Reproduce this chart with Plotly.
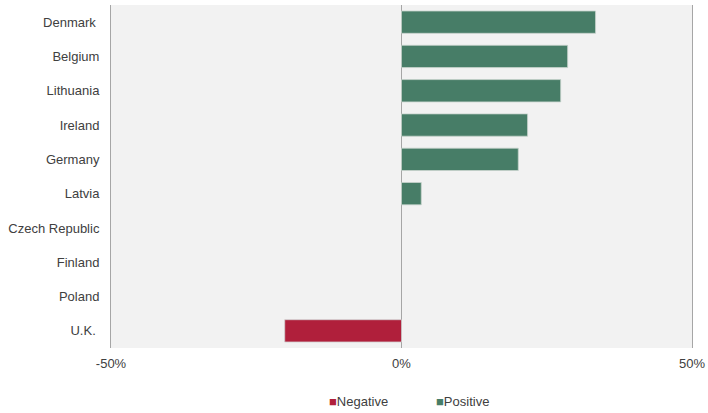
import plotly.graph_objects as go

countries = ["Denmark ", "Belgium", "Lithuania", "Ireland", "Germany", "Latvia",
             "Czech Republic", "Finland", "Poland", "U.K. "]
positive = [33.4, 28.6, 27.4, 21.7, 20.1, 3.4, None, None, None, None]
negative = [None, None, None, None, None, None, None, None, None, -20.1]
x_ticks = [-50, 0, 50]
x_tick_labels = ["-50%", "0%", "50%"]
series_names = ["Negative", "Positive"]
series_colors = ["#B01F3B", "#477D67"]

fig = go.Figure()
fig.add_trace(go.Bar(y=countries, x=negative, name=series_names[0], orientation="h",
                     showlegend=False,
                     marker=dict(color=series_colors[0], line=dict(color="#d0d0d0", width=0.8))))
fig.add_trace(go.Bar(y=countries, x=positive, name=series_names[1], orientation="h",
                     showlegend=False,
                     marker=dict(color=series_colors[1], line=dict(color="#c8d3cd", width=0.8))))

# legend drawn as text annotations with coloured squares
legend_x = [327, 434]
for name, col, lx in zip(series_names, series_colors, legend_x):
    fig.add_annotation(
        xref="paper", yref="paper",
        x=(lx - 111) / (692 - 111), y=-0.155,
        xanchor="left", yanchor="middle", showarrow=False,
        text=f"<span style='color:{col};font-size:13px'>■</span>{name}",
        font=dict(size=13, color="#404040"),
    )

fig.update_layout(
    width=708, height=413,
    margin=dict(l=111, r=16, t=5, b=65),
    plot_bgcolor="#F2F2F2", paper_bgcolor="white",
    barmode="overlay", bargap=0.35,
    font=dict(family="Liberation Sans, Arial, sans-serif", size=13, color="#404040"),
    showlegend=False,
    xaxis=dict(range=[-50, 50], tickvals=x_ticks, ticktext=x_tick_labels,
               showgrid=True, gridcolor="#A6A6A6", gridwidth=1,
               zeroline=True, zerolinecolor="#A6A6A6", zerolinewidth=1,
               showline=False, ticks="", ticklabelstandoff=6, automargin=False),
    yaxis=dict(categoryorder="array", categoryarray=countries[::-1],
               showgrid=False, zeroline=False, showline=True, mirror=True,
               linecolor="#A6A6A6", linewidth=1, ticks="",
               ticklabelstandoff=8, automargin=False),
)
fig.write_html("out.html", config={"displayModeBar": False},
               post_script="document.body.style.margin='0px';")
